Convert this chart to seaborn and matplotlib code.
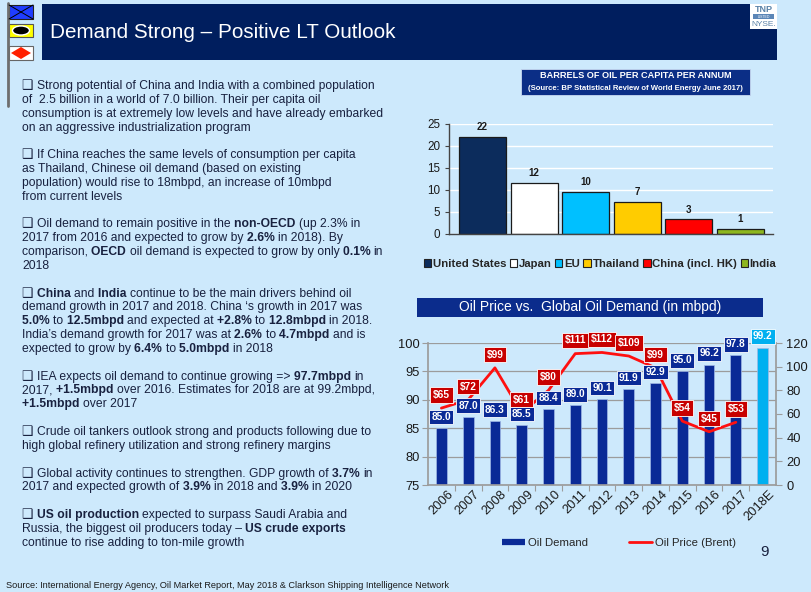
import matplotlib
matplotlib.use('Agg')
import matplotlib.pyplot as plt
import seaborn as sns
import numpy as np
from matplotlib.patches import Rectangle, Ellipse, Polygon, Patch
from matplotlib.lines import Line2D
from matplotlib.transforms import IdentityTransform, ScaledTranslation

W, H = 812, 592
BG = '#cde9fc'
NAVY = '#001e5e'
TXT = '#18213f'

# barrels of oil per capita per annum
countries = ['United States', 'Japan', 'EU', 'Thailand', 'China (incl. HK)', 'India']
barrels_per_capita = [22.0, 11.6, 9.6, 7.3, 3.3, 1.2]
country_colors = ['#0c2c5c', '#ffffff', '#00c0ff', '#ffcc00', '#ff0000', '#8db61e']

# oil price vs global oil demand
years = ['2006', '2007', '2008', '2009', '2010', '2011', '2012',
         '2013', '2014', '2015', '2016', '2017', '2018E']
oil_demand = [85.0, 87.0, 86.3, 85.5, 88.4, 89.0, 90.1, 91.9, 92.9, 95.0, 96.2, 97.8, 99.2]
brent_price = [65, 72, 99, 61, 80, 111, 112, 109, 99, 54, 45, 53]
demand_colors = ['#0a2a96'] * 12 + ['#00b0f0']

paragraphs = [
    ["❑ Strong potential of China and India with a combined population",
     "of  2.5 billion in a world of 7.0 billion. Their per capita oil",
     "consumption is at extremely low levels and have already embarked",
     "on an aggressive industrialization program"],
    ["❑ If China reaches the same levels of consumption per capita",
     "as Thailand, Chinese oil demand (based on existing",
     "population) would rise to 18mbpd, an increase of 10mbpd",
     "from current levels"],
    ["❑ Oil demand to remain positive in the **non-OECD** (up 2.3% in",
     "2017 from 2016 and expected to grow by **2.6%** in 2018). By",
     "comparison, **OECD** oil demand is expected to grow by only **0.1%** in",
     "2018"],
    ["❑ **China** and **India** continue to be the main drivers behind oil",
     "demand growth in 2017 and 2018. China \u2018s growth in 2017 was",
     "**5.0%** to **12.5mbpd** and expected at **+2.8%** to **12.8mbpd** in 2018.",
     "India\u2019s demand growth for 2017 was at **2.6%** to **4.7mbpd** and is",
     "expected to grow by **6.4%** to **5.0mbpd** in 2018"],
    ["❑ IEA expects oil demand to continue growing => **97.7mbpd** in",
     "2017, **+1.5mbpd** over 2016. Estimates for 2018 are at 99.2mbpd,",
     "**+1.5mbpd** over 2017"],
    ["❑ Crude oil tankers outlook strong and products following due to",
     "high global refinery utilization and strong refinery margins"],
    ["❑ Global activity continues to strengthen. GDP growth of **3.7%** in",
     "2017 and expected growth of **3.9%** in 2018 and **3.9%** in 2020"],
    ["❑ **US oil production** expected to surpass Saudi Arabia and",
     "Russia, the biggest oil producers today \u2013 **US crude exports**",
     "continue to rise adding to ton-mile growth"],
]

sns.set_theme(style='ticks')
plt.rcParams['font.family'] = ['Liberation Sans', 'DejaVu Sans']
plt.rcParams['axes.facecolor'] = 'none'

fig = plt.figure(figsize=(W / 100, H / 100), dpi=100, facecolor=BG)
renderer = fig.canvas.get_renderer()


def fx(x):
    return x / W


def fy(y):
    return 1 - y / H


def prect(x0, y0, x1, y1, **kw):
    r = Rectangle((fx(x0), fy(y1)), (x1 - x0) / W, (y1 - y0) / H,
                  transform=fig.transFigure, **kw)
    fig.add_artist(r)
    return r


# ---- header: flags, title bar, logo
fig.add_artist(Line2D([fx(8), fx(8)], [fy(3), fy(106)], color='#6e6e6e', lw=2,
                      transform=fig.transFigure))
prect(9, 5, 33, 19, fc='#1f3dff', ec='#222222', lw=0.8)
fig.add_artist(Line2D([fx(9), fx(33)], [fy(5), fy(19)], color='black', lw=0.7, transform=fig.transFigure))
fig.add_artist(Line2D([fx(9), fx(33)], [fy(19), fy(5)], color='black', lw=0.7, transform=fig.transFigure))
prect(9, 24, 33, 37, fc='#ffff00', ec='#555555', lw=0.8)
fig.add_artist(Ellipse((fx(21), fy(30.5)), 17 / W, 9 / H, fc='black', transform=fig.transFigure))
prect(9, 46, 33, 60, fc='white', ec='#666666', lw=0.8)
fig.add_artist(Polygon([(fx(11), fy(53)), (fx(21), fy(47)), (fx(31), fy(53)), (fx(21), fy(59))],
                       closed=True, fc='#ff2000', ec='none', transform=fig.transFigure))

prect(42, 4, 777, 60, fc=NAVY, ec='none')
fig.text(fx(50), fy(38.5), 'Demand Strong \u2013 Positive LT Outlook', color='white',
         fontsize=14.9, va='baseline')

prect(750, 4, 777, 29, fc='white', ec='none', zorder=3)
fig.text(fx(763.5), fy(10), 'TNP', color='#5a82a8', fontsize=6.5, fontweight='bold',
         ha='center', va='center', zorder=4)
prect(753, 14, 774, 19, fc='#5b86b7', ec='none', zorder=4)
fig.text(fx(763.5), fy(16.5), 'LISTED', color='white', fontsize=2.6, ha='center', va='center', zorder=5)
fig.text(fx(763.5), fy(24), 'NYSE.', color='#5a82a8', fontsize=6, ha='center', va='center', zorder=4)

# ---- left text with bold segments
TSIZE = 8.75


def ink_width(s, weight):
    t = fig.text(0, 0, s, fontsize=TSIZE, fontweight=weight)
    w = t.get_window_extent(renderer).width
    t.remove()
    return w


bar_w = {w: ink_width('|', w) for w in ('normal', 'bold')}


def advance(s, weight):
    # pen advance of s incl. trailing spaces, via a sentinel glyph
    return ink_width(s + '|', weight) - bar_w[weight]


def draw_rich(x, y, line):
    parts = line.split('**')
    # move leading spaces of a segment onto the end of the previous one
    for k in range(1, len(parts)):
        lead = len(parts[k]) - len(parts[k].lstrip(' '))
        if lead:
            parts[k - 1] += ' ' * lead
            parts[k] = parts[k][lead:]
    for k, part in enumerate(parts):
        if not part:
            continue
        weight = 'bold' if k % 2 else 'normal'
        fig.text(x, H - y, part, transform=IdentityTransform(), fontsize=TSIZE,
                 fontweight=weight, color=TXT, va='baseline')
        x += advance(part, weight)


row = 0
for para in paragraphs:
    for line in para:
        yc = 85 + 13.84 * row + 4
        if line.startswith('❑ '):
            fig.text(21.5, H - yc, '❑', transform=IdentityTransform(), fontsize=9.2,
                     fontweight='bold', color=TXT, va='baseline')
            draw_rich(37, yc, line[2:])
        else:
            draw_rich(22, yc, line)
        row += 1
    row += 1

fig.text(fx(6), fy(585), 'Source: International Energy Agency, Oil Market Report, May 2018 & '
         'Clarkson Shipping Intelligence Network', fontsize=6.6, color='#1a1a1a', va='center')

# ---- chart 1: barrels per capita
prect(521, 69, 750, 95, fc='#0b2e86', ec='#c8d8f0', lw=0.6)
fig.text(fx(635.5), fy(76), 'BARRELS OF OIL PER CAPITA PER ANNUM', color='white',
         fontsize=6.6, fontweight='bold', ha='center', va='center')
fig.text(fx(635.5), fy(88), '(Source: BP Statistical Review of World Energy June 2017)',
         color='white', fontsize=5.6, fontweight='bold', ha='center', va='center')

ax1 = fig.add_axes([fx(449), fy(234), 324 / W, 110 / H])
sns.barplot(x=countries, y=barrels_per_capita, hue=countries, palette=country_colors,
            legend=False, width=0.91, saturation=1, edgecolor='#1a1a1a', linewidth=0.9, ax=ax1)
for i, v in enumerate(barrels_per_capita):
    ax1.annotate(f'{v:.0f}', (i, v), xytext=(0, 7), textcoords='offset points',
                 ha='center', va='center', fontsize=7, fontweight='bold', color='#1a1a1a')
ax1.set_xlim(-0.65, 5.63)
ax1.set_ylim(0, 25)
ax1.set_yticks(range(0, 26, 5))
ax1.set_xticks([])
ax1.set_xlabel('')
ax1.set_ylabel('')
ax1.yaxis.grid(True, color='white', lw=1)
ax1.set_axisbelow(True)
for s in ('top', 'right'):
    ax1.spines[s].set_visible(False)
for s in ('left', 'bottom'):
    ax1.spines[s].set_color('#444444')
    ax1.spines[s].set_linewidth(1)
ax1.tick_params(axis='y', labelsize=8.4, length=3, width=0.8, pad=3.5,
                color='#444444', labelcolor='#1a1a1a')

handles1 = [Patch(fc=c, ec='#222222', lw=0.8) for c in country_colors]
fig.legend(handles1, countries, loc='center', bbox_to_anchor=(fx(600), fy(264)), ncol=6,
           frameon=False, prop={'weight': 'bold', 'size': 8.2}, handlelength=0.65,
           handleheight=0.65, handletextpad=0.15, columnspacing=0.3, borderpad=0)

# ---- chart 2: oil price vs demand
prect(417, 298, 763, 317, fc='#0b2c8c', ec='none')
fig.text(fx(590), fy(307.5), 'Oil Price vs.  Global Oil Demand (in mbpd)', color='white',
         fontsize=10, ha='center', va='center')

ax = fig.add_axes([fx(428), fy(485), 348 / W, 142 / H])
sns.barplot(x=years, y=oil_demand, hue=years, palette=demand_colors, legend=False,
            width=0.4, saturation=1, edgecolor='#9fb8e6', linewidth=0.5, ax=ax)
ax.set_ylim(75, 100)
ax.set_xlim(-0.5, 12.5)
ax.set_yticks(range(75, 101, 5))
ax.set_xlabel('')
ax.set_ylabel('')
ax.yaxis.grid(True, color='#9c9c9c', lw=0.9)
ax.set_axisbelow(True)
ax.set_xticks(np.arange(0.5, 12.5, 1), minor=True)
ax.tick_params(axis='x', which='major', length=0, labelsize=9.3, pad=2, labelcolor='#1a1a1a')
ax.tick_params(axis='x', which='minor', length=4, width=0.8, color='#9c9c9c')
ax.tick_params(axis='y', labelsize=9.3, length=4, width=0.8, pad=2, color='#9c9c9c',
               labelcolor='#1a1a1a')
for lab in ax.get_xticklabels():
    lab.set_rotation(45)
    lab.set_ha('right')
    lab.set_rotation_mode('anchor')
    lab.set_transform(lab.get_transform() + ScaledTranslation(4 / 72, 0, fig.dpi_scale_trans))
ax.spines['top'].set_visible(False)
ax.spines['right'].set_visible(False)
for s in ('left', 'bottom'):
    ax.spines[s].set_color('#9c9c9c')

axp = ax.twinx()
sns.lineplot(x=list(range(len(brent_price))), y=brent_price, color='#ff1010', lw=2, ax=axp)
axp.set_ylim(0, 120)
axp.set_xlim(-0.5, 12.5)
axp.set_yticks(range(0, 121, 20))
axp.set_ylabel('')
axp.tick_params(axis='y', labelsize=9.3, length=4, width=0.8, pad=3.5, color='#9c9c9c',
                labelcolor='#1a1a1a')
for s in ('top', 'left', 'bottom'):
    axp.spines[s].set_visible(False)
axp.spines['right'].set_color('#9c9c9c')

for i, d in enumerate(oil_demand):
    axp.annotate(f'{d:.1f}', xy=(i, d), xycoords=ax.transData, xytext=(0, 8),
                 textcoords='offset points', ha='center', va='center', color='white',
                 fontsize=7.3, fontweight='bold', zorder=5, annotation_clip=False,
                 bbox=dict(boxstyle='square,pad=0.22', fc=demand_colors[i], ec='white', lw=0.6))
for i, p in enumerate(brent_price):
    axp.annotate(f'${p}', xy=(i, p), xytext=(0, 9.5), textcoords='offset points',
                 ha='center', va='center', color='white', fontsize=7.3, fontweight='bold',
                 zorder=6, annotation_clip=False,
                 bbox=dict(boxstyle='square,pad=0.27', fc='#c80000', ec='white', lw=0.6))

handles2 = [Line2D([0], [0], color='#0a2a96', lw=4.5, solid_capstyle='butt'),
            Line2D([0], [0], color='#ff1010', lw=2)]
fig.legend(handles2, ['Oil Demand', 'Oil Price (Brent)'], loc='center',
           bbox_to_anchor=(fx(619), fy(543)), ncol=2, frameon=False, fontsize=8.2,
           handlelength=2.0, handletextpad=0.3, columnspacing=3.6, borderpad=0)

fig.text(fx(765), fy(552), '9', fontsize=11, ha='center', va='center', color=TXT)

fig.savefig('out.png', dpi=100, facecolor=BG)
